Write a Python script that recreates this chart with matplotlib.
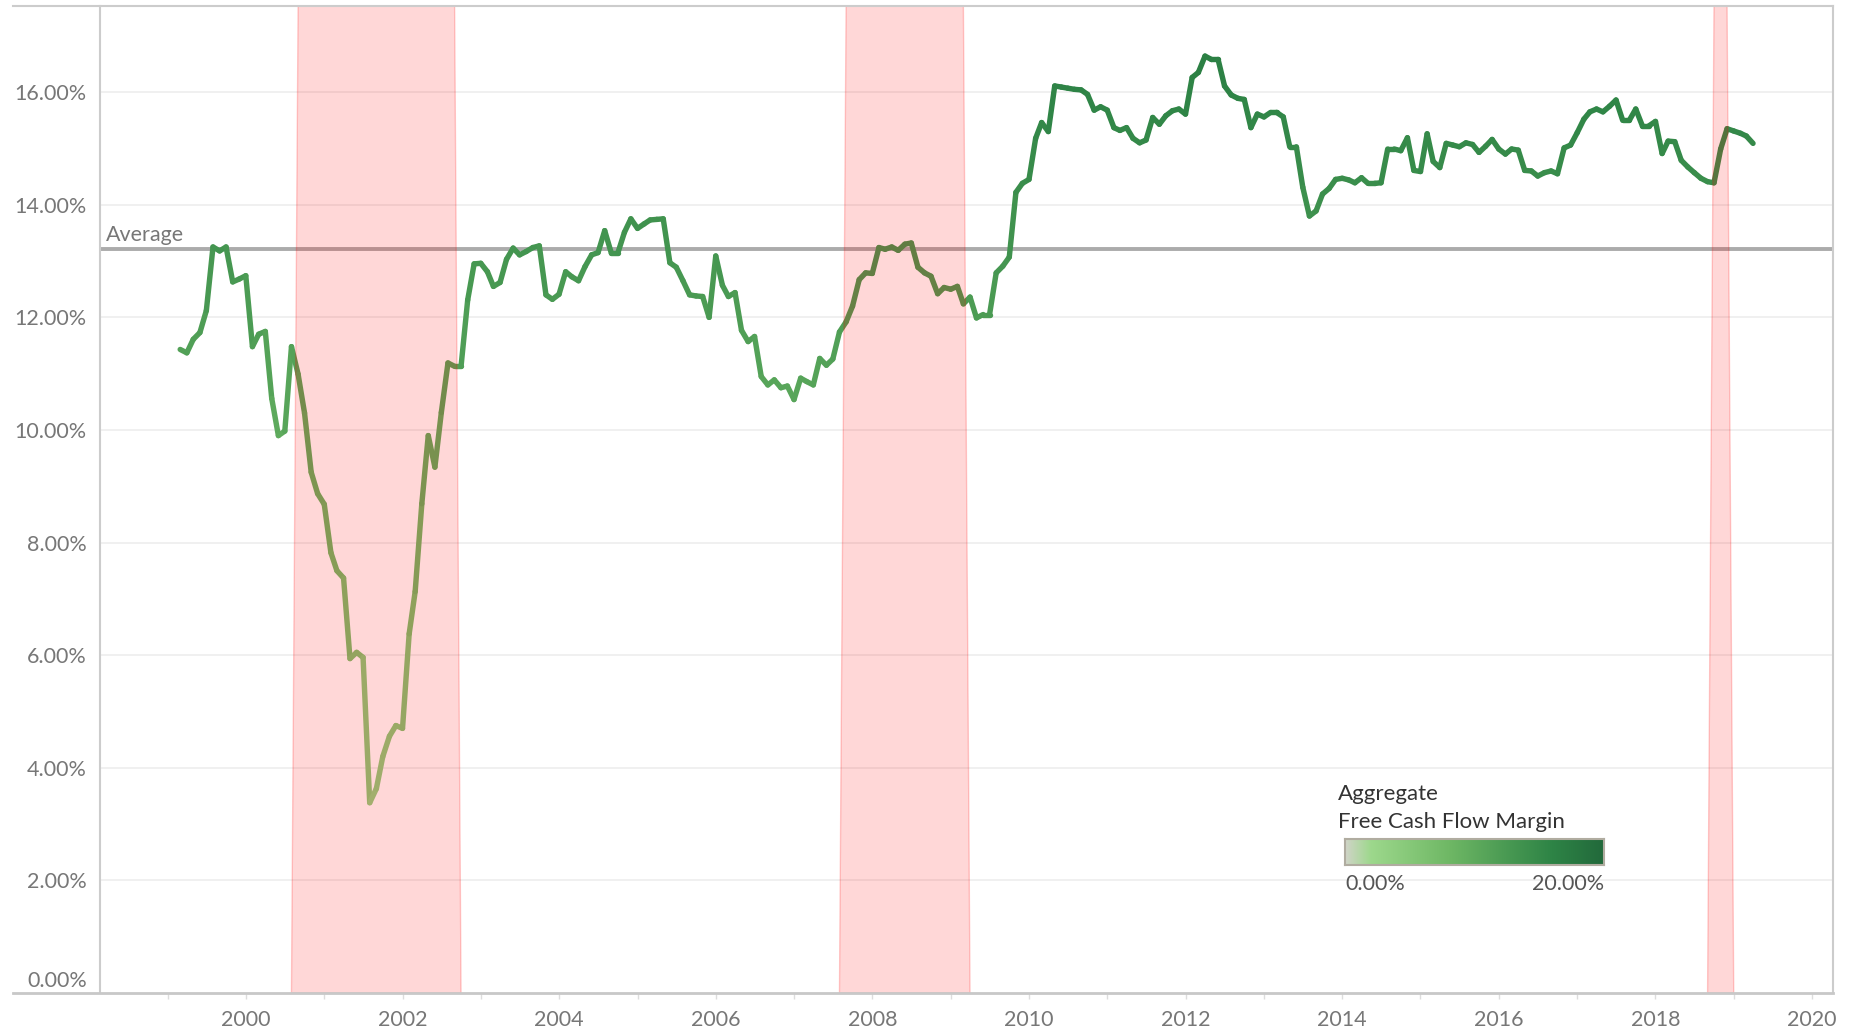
import numpy as np
import pandas as pd
import matplotlib
matplotlib.use('Agg')
import matplotlib.pyplot as plt
import matplotlib.dates as mdates
from matplotlib.collections import LineCollection
from matplotlib.colors import LinearSegmentedColormap, Normalize
from matplotlib.lines import Line2D

# monthly aggregate free cash flow margin (%), starting March 1999
start_month = '1999-03-01'
fcf_margin = [
    11.43, 11.37, 11.61, 11.73, 12.12, 13.25, 13.18, 13.25, 12.63, 12.68,                # 1999
    12.74, 11.48, 11.70, 11.75, 10.56, 9.90, 9.98, 11.48, 10.99, 10.30, 9.25, 8.87,      # 2000
    8.68, 7.82, 7.50, 7.37, 5.94, 6.05, 5.96, 3.38, 3.63, 4.20, 4.56, 4.75,              # 2001
    4.70, 6.38, 7.13, 8.69, 9.90, 9.34, 10.31, 11.19, 11.13, 11.13, 12.31, 12.95,        # 2002
    12.96, 12.81, 12.55, 12.62, 13.03, 13.23, 13.11, 13.17, 13.24, 13.27, 12.40, 12.32,  # 2003
    12.41, 12.81, 12.72, 12.65, 12.90, 13.11, 13.15, 13.54, 13.14, 13.14, 13.51, 13.75,  # 2004
    13.58, 13.66, 13.73, 13.74, 13.75, 12.97, 12.89, 12.65, 12.40, 12.38, 12.37, 12.00,  # 2005
    13.09, 12.57, 12.37, 12.44, 11.77, 11.57, 11.66, 10.95, 10.80, 10.89, 10.75, 10.78,  # 2006
    10.54, 10.92, 10.86, 10.80, 11.27, 11.15, 11.26, 11.74, 11.92, 12.20, 12.67, 12.79,  # 2007
    12.78, 13.24, 13.21, 13.25, 13.19, 13.30, 13.32, 12.89, 12.79, 12.73, 12.42, 12.53,  # 2008
    12.50, 12.55, 12.24, 12.36, 11.99, 12.05, 12.05, 12.79, 12.91, 13.07, 14.22, 14.38,  # 2009
    14.45, 15.18, 15.46, 15.30, 16.11, 16.09, 16.07, 16.05, 16.04, 15.96, 15.68, 15.74,  # 2010
    15.68, 15.37, 15.32, 15.37, 15.18, 15.10, 15.15, 15.55, 15.43, 15.58, 15.67, 15.70,  # 2011
    15.61, 16.26, 16.35, 16.64, 16.58, 16.58, 16.11, 15.95, 15.89, 15.87, 15.37, 15.61,  # 2012
    15.56, 15.64, 15.64, 15.56, 15.03, 15.03, 14.31, 13.80, 13.89, 14.19, 14.29, 14.45,  # 2013
    14.47, 14.44, 14.39, 14.48, 14.38, 14.38, 14.39, 14.99, 14.99, 14.96, 15.19, 14.61,  # 2014
    14.59, 15.26, 14.77, 14.66, 15.09, 15.06, 15.03, 15.10, 15.07, 14.93, 15.04, 15.16,  # 2015
    14.99, 14.90, 14.99, 14.97, 14.61, 14.60, 14.51, 14.57, 14.60, 14.55, 15.01, 15.06,  # 2016
    15.28, 15.52, 15.65, 15.70, 15.65, 15.75, 15.86, 15.50, 15.50, 15.70, 15.40, 15.40,  # 2017
    15.48, 14.91, 15.13, 15.12, 14.79, 14.67, 14.57, 14.47, 14.41, 14.39, 14.99, 15.35,  # 2018
    15.31, 15.27, 15.22, 15.09,                                                           # 2019
]
average_margin = 13.22

recessions = [
    ('2000-08-01', '2002-10-01'),
    ('2007-08-01', '2009-04-01'),
    ('2018-09-01', '2019-01-01'),
]

y_ticks = [2, 4, 6, 8, 10, 12, 14, 16]
color_range = (0.0, 20.0)
legend_title = ['Aggregate', 'Free Cash Flow Margin']

plt.rcParams['font.family'] = ['Lato', 'DejaVu Sans']

W, H = 1853, 1030
fig = plt.figure(figsize=(W / 100, H / 100), dpi=100)
ax = fig.add_axes([100 / W, (H - 993) / H, (1833 - 100) / W, (993 - 6) / H])

y_top = 17.53
ax.set_ylim(0, y_top)
ax.set_xlim(mdates.date2num(pd.Timestamp('1998-02-20')), mdates.date2num(pd.Timestamp('2020-04-08')))

cmap = LinearSegmentedColormap.from_list('fcf', [
    (0.00, '#d0d4c8'), (0.10, '#9dd88c'), (0.40, '#6fb865'),
    (0.62, '#4a9a53'), (0.80, '#2e8446'), (1.00, '#22693b')])
norm = Normalize(*color_range)

# grid + average
ax.yaxis.grid(True, color='#efefef', lw=1.3, zorder=0)
ax.set_axisbelow(True)
ax.axhline(average_margin, color='#ababab', lw=2.8, zorder=2)
ax.annotate('Average', xy=(0, average_margin), xycoords=('axes fraction', 'data'),
            xytext=(4, 3), textcoords='offset points', ha='left', va='bottom',
            fontsize=15.5, color='#777777')

# line coloured by value
dates = pd.date_range(start_month, periods=len(fcf_margin), freq='MS')
x = mdates.date2num(dates)
y = np.array(fcf_margin)
pts = np.column_stack([x, y])
segs = np.stack([pts[:-1], pts[1:]], axis=1)
seg_vals = (y[:-1] + y[1:]) / 2
lc = LineCollection(segs, colors=cmap(norm(seg_vals)), linewidths=3.9,
                    capstyle='round', joinstyle='round', zorder=3)
ax.add_collection(lc)

# recession bands on top
one_month = pd.DateOffset(months=1)
for s, e in recessions:
    s, e = pd.Timestamp(s), pd.Timestamp(e)
    xs = mdates.date2num([s, s + one_month, e - one_month, e])
    ax.fill(xs, [0, y_top, y_top, 0], facecolor=(1, 0, 0, 0.155),
            edgecolor=(1, 0, 0, 0.2), lw=1, zorder=4)

# axes styling
ax.set_yticks(y_ticks)
ax.set_yticklabels(['{:.2f}%'.format(v) for v in y_ticks])
ax.text(-13 / (1833 - 100), 0.22, '0.00%', transform=ax.get_yaxis_transform(),
        ha='right', va='center', fontsize=15.5, color='#777777')
ax.tick_params(axis='y', length=0, pad=9.5, labelsize=15.5, labelcolor='#777777')

ax.xaxis.set_major_locator(mdates.YearLocator(2))
ax.xaxis.set_major_formatter(mdates.DateFormatter('%Y'))
ax.xaxis.set_minor_locator(mdates.YearLocator(1))
ax.tick_params(axis='x', which='both', direction='out', length=4, width=1,
               color='#dddddd', pad=8, labelsize=15.5, labelcolor='#777777')

for side in ['top', 'bottom']:
    ax.spines[side].set_visible(False)
for side in ['left', 'right']:
    ax.spines[side].set_color('#cccccc')
    ax.spines[side].set_linewidth(1.5)

fig.add_artist(Line2D([13 / W, 1833 / W], [1 - 6 / H, 1 - 6 / H], color='#cccccc', lw=1.5))
fig.add_artist(Line2D([13 / W, 1833 / W], [1 - 993 / H, 1 - 993 / H], color='#c8c8c8', lw=2))

# colour legend
fig.text(1338 / W, 1 - 794 / H, legend_title[0], ha='left', va='center', fontsize=16, color='#333333')
fig.text(1338 / W, 1 - 822 / H, legend_title[1], ha='left', va='center', fontsize=16, color='#333333')
cax = fig.add_axes([1345 / W, (H - 865) / H, 259 / W, 26 / H])
cax.imshow(np.linspace(0, 1, 256).reshape(1, -1), aspect='auto', cmap=cmap, extent=[0, 1, 0, 1])
cax.set_xticks([])
cax.set_yticks([])
for sp in cax.spines.values():
    sp.set_color('#b0aca0')
    sp.set_linewidth(1.5)
fig.text(1345 / W, 1 - 884 / H, '{:.2f}%'.format(color_range[0]), ha='left', va='center',
         fontsize=15.5, color='#555555')
fig.text(1604 / W, 1 - 884 / H, '{:.2f}%'.format(color_range[1]), ha='right', va='center',
         fontsize=15.5, color='#555555')

fig.savefig('out.png', dpi=100)
